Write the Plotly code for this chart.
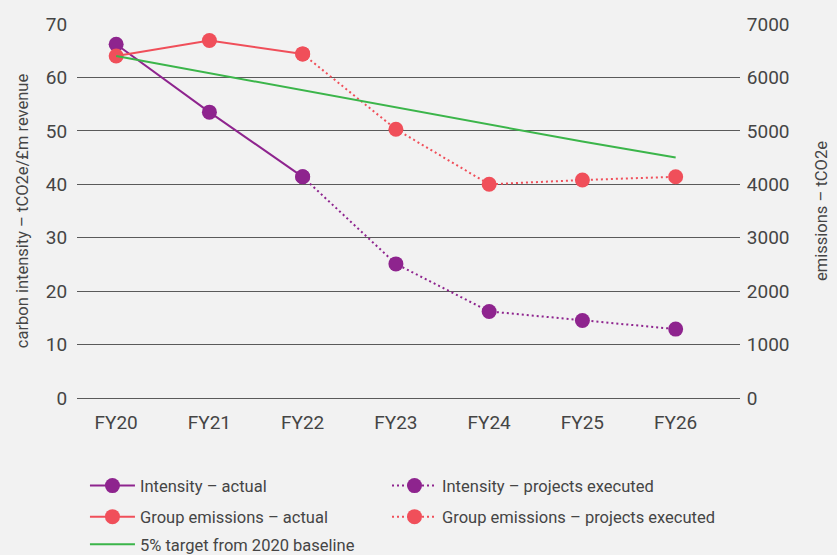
import plotly.graph_objects as go

years = ["FY20", "FY21", "FY22", "FY23", "FY24", "FY25", "FY26"]

intensity_actual_x = ["FY20", "FY21", "FY22"]
intensity_actual = [66.2, 53.5, 41.4]
intensity_proj_x = ["FY22", "FY23", "FY24", "FY25", "FY26"]
intensity_proj = [41.4, 25.1, 16.2, 14.5, 12.9]

emis_actual_x = ["FY20", "FY21", "FY22"]
emis_actual = [6400, 6690, 6440]
emis_proj_x = ["FY22", "FY23", "FY24", "FY25", "FY26"]
emis_proj = [6440, 5030, 4000, 4080, 4140]

target = [6400, 6080, 5760, 5440, 5120, 4800, 4500]

left_ticks = [0, 10, 20, 30, 40, 50, 60, 70]
right_ticks = [0, 1000, 2000, 3000, 4000, 5000, 6000, 7000]

PURPLE = "#8E248E"
RED = "#F04F5A"
GREEN = "#3BB54A"
TEXT = "#454545"
BG = "#F2F2F2"
GRID = "#5a5a5a"
FONT = "Roboto"

fig = go.Figure()
fig.add_trace(go.Scatter(x=intensity_actual_x, y=intensity_actual, name="Intensity – actual",
                         mode="lines+markers", line=dict(color=PURPLE, width=2),
                         marker=dict(size=15, color=PURPLE), yaxis="y", legend="legend"))
fig.add_trace(go.Scatter(x=intensity_proj_x, y=intensity_proj, name="Intensity – projects executed",
                         mode="lines+markers", line=dict(color=PURPLE, width=2, dash="2px,3px"),
                         marker=dict(size=15, color=PURPLE), yaxis="y", legend="legend2"))
fig.add_trace(go.Scatter(x=emis_actual_x, y=emis_actual, name="Group emissions – actual",
                         mode="lines+markers", line=dict(color=RED, width=2),
                         marker=dict(size=15, color=RED), yaxis="y2", legend="legend3"))
fig.add_trace(go.Scatter(x=emis_proj_x, y=emis_proj, name="Group emissions – projects executed",
                         mode="lines+markers", line=dict(color=RED, width=2, dash="2px,3px"),
                         marker=dict(size=15, color=RED), yaxis="y2", legend="legend4"))
fig.add_trace(go.Scatter(x=years, y=target, name="5% target from 2020 baseline",
                         mode="lines", line=dict(color=GREEN, width=2),
                         yaxis="y2", legend="legend5"))

leg_common = dict(orientation="h", xanchor="left", yanchor="middle",
                  font=dict(family=FONT, size=16.5, color=TEXT),
                  bgcolor="rgba(0,0,0,0)", itemwidth=45,
                  itemclick=False, itemdoubleclick=False)

COL1 = 0.012
COL2 = 0.4676
ROW1, ROW2, ROW3 = -0.235, -0.318, -0.392

fig.update_layout(
    width=837, height=555,
    margin=dict(l=77, r=97, t=24, b=157, autoexpand=False),
    paper_bgcolor=BG, plot_bgcolor=BG,
    font=dict(family=FONT, size=19, color=TEXT),
    showlegend=True,
    legend=dict(x=COL1, y=ROW1, **leg_common),
    legend2=dict(x=COL2, y=ROW1, **leg_common),
    legend3=dict(x=COL1, y=ROW2, **leg_common),
    legend4=dict(x=COL2, y=ROW2, **leg_common),
    legend5=dict(x=COL1, y=ROW3, **leg_common),
    xaxis=dict(type="category", categoryorder="array", categoryarray=years,
               range=[-0.42, 6.69], showgrid=False, zeroline=False, showline=False,
               ticks="outside", ticklen=7, tickcolor="rgba(0,0,0,0)",
               tickfont=dict(family=FONT, size=19, color=TEXT)),
    yaxis=dict(range=[0, 70], tickvals=left_ticks, showgrid=True, gridcolor=GRID,
               gridwidth=1, zeroline=True, zerolinecolor=GRID, zerolinewidth=1,
               showline=False,
               ticks="outside", ticklen=5, tickcolor="rgba(0,0,0,0)",
               tickfont=dict(family=FONT, size=19, color=TEXT),
               title=dict(text="carbon intensity – tCO2e/£m revenue",
                          font=dict(family=FONT, size=16.5, color=TEXT), standoff=13)),
    yaxis2=dict(range=[0, 7000], tickvals=right_ticks, overlaying="y", side="right",
                showgrid=False, zeroline=False, showline=False,
                ticks="outside", ticklen=2, tickcolor="rgba(0,0,0,0)",
                tickfont=dict(family=FONT, size=19, color=TEXT),
                title=dict(text="emissions – tCO2e",
                           font=dict(family=FONT, size=16.5, color=TEXT), standoff=26)),
)

fig.write_html("out.html")
